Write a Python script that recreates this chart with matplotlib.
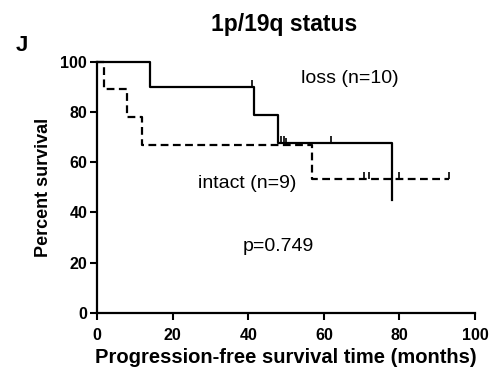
import matplotlib
matplotlib.use("Agg")
import matplotlib.pyplot as plt
from matplotlib.markers import TICKUP

plt.rcParams['font.family'] = ['Liberation Sans', 'DejaVu Sans']

# Kaplan-Meier steps: time of each drop and survival after it
loss_t = [0, 14, 41.5, 48, 78]
loss_s = [100, 90, 78.75, 67.5, 45]
loss_end = 78
loss_cens_t = [41, 48.7, 49.5, 62, 78]
loss_cens_s = [90, 67.5, 67.5, 67.5, 45]

intact_t = [0, 1.9, 8, 12, 57]
intact_s = [100, 88.9, 77.8, 66.7, 53.3]
intact_end = 93
intact_cens_t = [50, 70.5, 72, 80, 93]
intact_cens_s = [66.7, 53.3, 53.3, 53.3, 53.3]

xticks = [0, 20, 40, 60, 80, 100]
yticks = [0, 20, 40, 60, 80, 100]

fig = plt.figure(figsize=(4.97, 3.8), dpi=100)
ax = fig.add_axes([0.195, 0.176, 0.761, 0.662])

ax.step(loss_t + [loss_end], loss_s + [loss_s[-1]], where='post',
        color='black', lw=1.6, clip_on=False)
ax.step(intact_t + [intact_end], intact_s + [intact_s[-1]], where='post',
        color='black', lw=1.6, ls=(0, (3.5, 2)), clip_on=False)
ax.plot(loss_cens_t, loss_cens_s, ls='none', marker=TICKUP, ms=5,
        mew=1.2, color='black', clip_on=False)
ax.plot(intact_cens_t, intact_cens_s, ls='none', marker=TICKUP, ms=5,
        mew=1.2, color='black', clip_on=False)

ax.set_xlim(0, 100)
ax.set_ylim(0, 100)
ax.set_xticks(xticks)
ax.set_yticks(yticks)
for s in ['top', 'right']:
    ax.spines[s].set_visible(False)
for s in ['left', 'bottom']:
    ax.spines[s].set_linewidth(1.6)
ax.tick_params(direction='out', length=5, width=1.5, labelsize=11.5)
ax.tick_params(axis='x', pad=6)
ax.tick_params(axis='y', pad=2)
for lab in ax.get_xticklabels() + ax.get_yticklabels():
    lab.set_fontweight('bold')

ax.set_xlabel('Progression-free survival time (months)', fontsize=14.5,
              fontweight='bold', labelpad=3)
ax.set_ylabel('Percent survival', fontsize=13, fontweight='bold', labelpad=6)

ax.text(66.8, 93.4, 'loss (n=10)', fontsize=14, ha='center', va='center')
ax.text(39.8, 51.7, 'intact (n=9)', fontsize=14, ha='center', va='center')
ax.text(48, 26.4, 'p=0.749', fontsize=14, ha='center', va='center')

fig.text(0.572, 0.935, '1p/19q status', fontsize=16.5, fontweight='bold',
         ha='center', va='center')
fig.text(0.044, 0.88, 'J', fontsize=16, fontweight='bold',
         ha='center', va='center')

fig.savefig('out.png', dpi=100)
